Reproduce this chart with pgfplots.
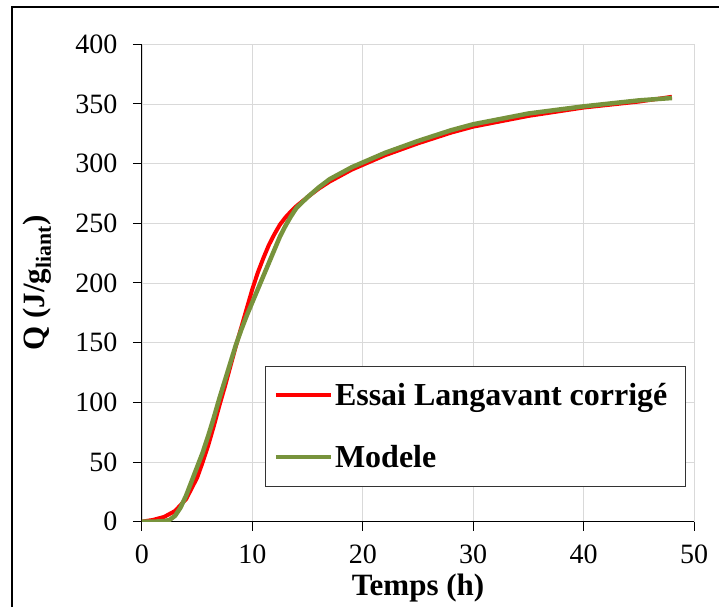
\documentclass[border=0pt]{standalone}
\usepackage{pgfplots}
\pgfplotsset{compat=1.18}
\usepackage{fontspec}
\setmainfont{Liberation Serif}

\definecolor{excelred}{RGB}{255,0,0}
\definecolor{olivegreen}{RGB}{119,147,60}
\definecolor{gridgray}{RGB}{217,217,217}

% essai (red)
\pgfplotstableread{
t Q
0 0
1 1.5
2 4
3 9
4 19
5 37
5.5 50
6 64
6.5 80
7 97
7.5 113
8 130
8.5 147
9 163
9.5 179
10 195
10.5 209
11 221
11.5 232
12 241
12.5 249
13 255
13.5 260
14 264.5
15 272
16 279
17 285
18 290
19 295
20 299
22 307
25 317
28 326
30 331
35 340
40 347
45 352
48 356
}\essai

% modele (green)
\pgfplotstableread{
t Q
0 0
1 0
2 0.5
2.5 1.5
3 5
3.5 12
4 22
4.5 34
5 46
5.5 58
6 72
6.5 87
7 103
7.5 118
8 133
8.5 148
9 161
9.5 173
10 184
10.5 195
11 206
11.5 217
12 228
12.5 239
13 248
13.5 256
14 263
15 272
16 280
17 287
18 292
19 297
20 301
22 309
25 319
28 328
30 333
35 342
40 348
45 353
48 355
}\modele

\begin{document}
\begin{tikzpicture}[x=1pt,y=1pt]
\begin{axis}[
    name=ax,
    scale only axis,
    width=552pt, height=477.4pt,
    xmin=0, xmax=50, ymin=0, ymax=400,
    xtick={0,10,...,50}, ytick={0,50,...,400},
    axis x line*=bottom, axis y line*=left,
    axis line style={-, black, line width=1pt},
    tick align=outside, major tick length=9pt,
    tick style={black, line width=1pt},
    grid=major,
    major grid style={gridgray, line width=0.9pt},
    ticklabel style={font=\fontsize{28}{32}\selectfont},
    yticklabel style={xshift=-12pt},
    xticklabel style={yshift=-11pt},
    /pgf/number format/assume math mode=true,
    xlabel={\textbf{Temps (h)}},
    ylabel={\textbf{Q (J/g\textsubscript{liant})}},
    label style={font=\fontsize{31}{36}\selectfont},
    xlabel style={at={(axis description cs:0.5,-0.138)}, anchor=center},
    ylabel style={at={(axis description cs:-0.19,0.5)}, anchor=center},
    legend style={at={(0.223,0.326)}, anchor=north west,
        draw=black!80, line width=0.8pt,
        font=\bfseries\fontsize{32}{36}\selectfont,
        inner xsep=8pt, inner ysep=15pt, row sep=34pt},
    legend cell align=left,
    legend image code/.code={\draw[#1] (0pt,0pt) -- (55pt,0pt);},
]
\addplot[excelred, line width=4pt, line join=round] table[x=t,y=Q] {\essai};
\addlegendentry{Essai Langavant corrigé\hspace*{8pt}}
\addplot[olivegreen, line width=4.5pt, line join=round] table[x=t,y=Q] {\modele};
\addlegendentry{Modele}
\end{axis}
% bounding box of the full image and the frame (top and left edges)
\path ([shift={(-142pt,-85.3pt)}]ax.south west) coordinate (bl);
\path ([shift={(577pt,521.7pt)}]ax.south west) coordinate (tr);
\useasboundingbox (bl) rectangle (tr);
\draw[line width=2.8pt] ([shift={(-130pt,-85.3pt)}]ax.south west) -- ([shift={(-130pt,514.7pt)}]ax.south west) -- ([shift={(577pt,514.7pt)}]ax.south west);
\end{tikzpicture}
\end{document}
